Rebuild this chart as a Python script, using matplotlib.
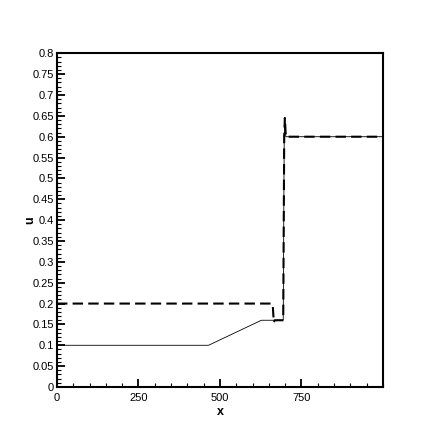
import numpy as np
import matplotlib
matplotlib.use('Agg')
import matplotlib.pyplot as plt
from matplotlib.ticker import MultipleLocator

plt.rcParams['font.family'] = ['Liberation Sans', 'DejaVu Sans']

# solid curve
x_solid = [0, 465, 627, 694, 697, 699, 702, 1000]
u_solid = [0.1, 0.1, 0.16, 0.16, 0.6, 0.64, 0.6, 0.6]

# dashed curve
x_dash = [0, 660, 662, 665, 668, 694, 697, 699, 702, 1000]
u_dash = [0.2, 0.2, 0.195, 0.155, 0.16, 0.16, 0.6, 0.645, 0.6, 0.6]

xticks = [0, 250, 500, 750]
yticks = np.arange(0, 0.801, 0.05)

fig = plt.figure(figsize=(4.36, 4.36), dpi=100)
ax = fig.add_axes([0.1307, 0.1124, 0.7477, 0.7654])

ax.plot(x_solid, u_solid, color='k', lw=0.6)
ax.plot(x_dash, u_dash, color='k', lw=1.5, dashes=(5, 2.5))

ax.set_xlim(0, 1000)
ax.set_ylim(0, 0.8)
ax.set_xticks(xticks)
ax.set_yticks(yticks)
ax.set_yticklabels(['%g' % round(v, 2) for v in yticks])
ax.xaxis.set_minor_locator(MultipleLocator(50))
ax.yaxis.set_minor_locator(MultipleLocator(0.01))

ax.tick_params(which='both', direction='in', labelsize=8, top=False, right=False)
ax.tick_params(which='major', length=6, width=1.3)
ax.tick_params(which='minor', length=3, width=0.8)
ax.tick_params(axis='x', pad=4)
ax.tick_params(axis='y', pad=2)
for s in ax.spines.values():
    s.set_linewidth(1.5)

ax.set_xlabel('x', fontsize=9, fontweight='bold')
ax.set_ylabel('u', fontsize=9, fontweight='bold')
ax.xaxis.set_label_coords(0.5, -0.058)
ax.yaxis.set_label_coords(-0.064, 0.5)

fig.savefig('out.png', dpi=100)
plt.close()
